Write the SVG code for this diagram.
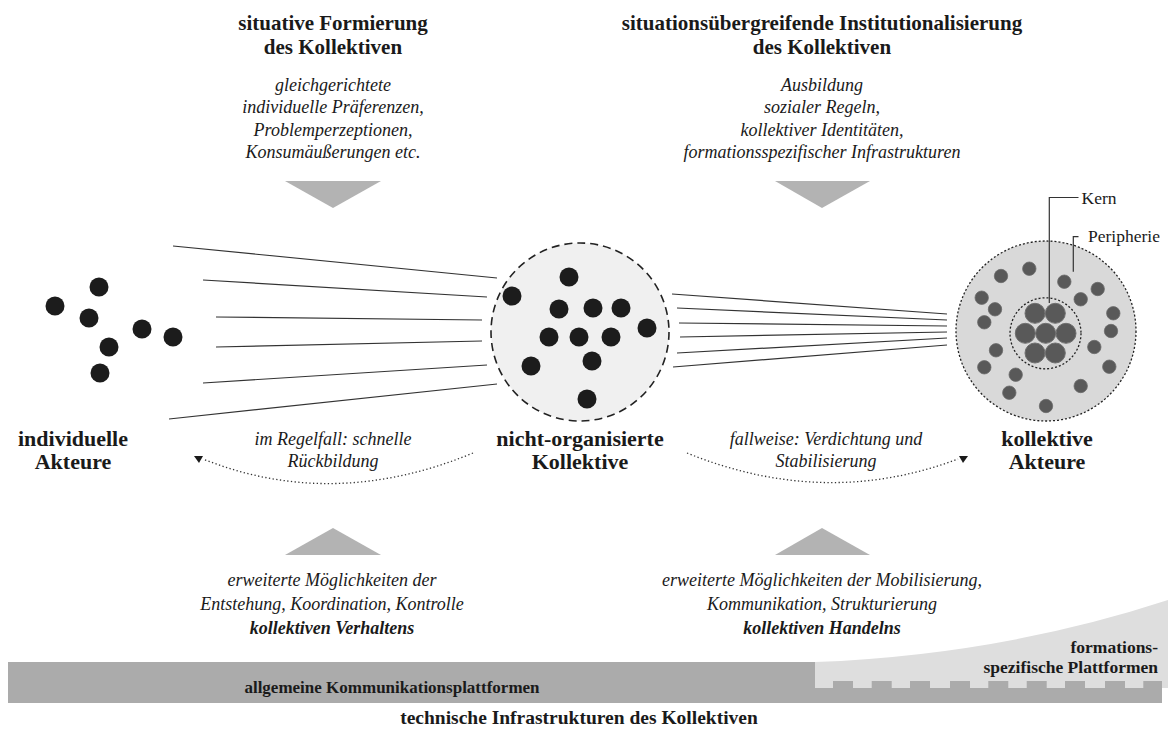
<svg xmlns="http://www.w3.org/2000/svg" width="1168" height="731" viewBox="0 0 1168 731">
<style>
.t{font-family:"Liberation Serif","Times New Roman",serif;fill:#1a1a1a;text-anchor:middle}
.b{font-weight:bold;font-size:21px}
.nl{font-weight:bold;font-size:22px}
.i{font-style:italic;font-size:18px}
.bi{font-style:italic;font-weight:bold;font-size:18px}
.sm{font-size:17.5px;text-anchor:start}
.pb{font-weight:bold;font-size:17px}
.tri{fill:#b3b3b3}
.ln{stroke:#333;stroke-width:1.2;fill:none}
.dot{fill:#1c1c1c}
.pd{fill:#595959;stroke:#6a6a6a;stroke-width:0.8}
.cd{fill:#595959;stroke:#6e6e6e;stroke-width:1}
.arc{stroke:#333;stroke-width:1.3;fill:none;stroke-dasharray:1.3 2.4}
</style>
<rect width="1168" height="731" fill="#ffffff"/>

<g id="top-left">
<text class="t b" x="333" y="30">situative Formierung</text>
<text class="t b" x="333" y="54">des Kollektiven</text>
<text class="t i" x="333" y="91">gleichgerichtete</text>
<text class="t i" x="333" y="113">individuelle Präferenzen,</text>
<text class="t i" x="333" y="136">Problemperzeptionen,</text>
<text class="t i" x="333" y="158">Konsumäußerungen etc.</text>
<polygon class="tri" points="285,181 381,181 333,208"/>
</g>

<g id="top-right">
<text class="t b" x="822" y="30">situationsübergreifende Institutionalisierung</text>
<text class="t b" x="822" y="54">des Kollektiven</text>
<text class="t i" x="822" y="91">Ausbildung</text>
<text class="t i" x="822" y="113">sozialer Regeln,</text>
<text class="t i" x="822" y="136">kollektiver Identitäten,</text>
<text class="t i" x="822" y="158">formationsspezifischer Infrastrukturen</text>
<polygon class="tri" points="775,181 870,181 822,208"/>
</g>

<g id="individuelle-akteure">
<circle class="dot" cx="99" cy="287" r="9.5"/>
<circle class="dot" cx="55" cy="306" r="9.5"/>
<circle class="dot" cx="89" cy="318" r="9.5"/>
<circle class="dot" cx="142" cy="329" r="9.5"/>
<circle class="dot" cx="173" cy="337" r="9.5"/>
<circle class="dot" cx="109" cy="347" r="9.5"/>
<circle class="dot" cx="100" cy="373" r="9.5"/>
<text class="t nl" x="73" y="446">individuelle</text>
<text class="t nl" x="73" y="469">Akteure</text>
</g>

<g id="nicht-organisierte-kollektive">
<circle cx="580" cy="332" r="89" fill="#f0f0f0" stroke="#222" stroke-width="1.6" stroke-dasharray="8 5"/>
<circle class="dot" cx="569" cy="277" r="9.5"/>
<circle class="dot" cx="512" cy="296" r="9.5"/>
<circle class="dot" cx="559" cy="309" r="9.5"/>
<circle class="dot" cx="593" cy="308" r="9.5"/>
<circle class="dot" cx="621" cy="308" r="9.5"/>
<circle class="dot" cx="647" cy="328" r="9.5"/>
<circle class="dot" cx="549" cy="337" r="9.5"/>
<circle class="dot" cx="579" cy="337" r="9.5"/>
<circle class="dot" cx="611" cy="337" r="9.5"/>
<circle class="dot" cx="531" cy="366" r="9.5"/>
<circle class="dot" cx="592" cy="361" r="9.5"/>
<circle class="dot" cx="587" cy="399" r="9.5"/>
<text class="t nl" x="580" y="446">nicht-organisierte</text>
<text class="t nl" x="580" y="469">Kollektive</text>
</g>

<g id="kollektive-akteure">
<circle cx="1046" cy="331" r="90" fill="#d9d9d9" stroke="#222" stroke-width="1.3" stroke-dasharray="2 2"/>
<circle cx="1045.5" cy="333.3" r="35.5" fill="none" stroke="#222" stroke-width="1.3" stroke-dasharray="2 2"/>
<circle class="cd" cx="1035" cy="313.3" r="10"/>
<circle class="cd" cx="1055.3" cy="313.3" r="10"/>
<circle class="cd" cx="1025.3" cy="333.3" r="10"/>
<circle class="cd" cx="1045.7" cy="333.3" r="10"/>
<circle class="cd" cx="1066" cy="333.3" r="10"/>
<circle class="cd" cx="1035" cy="353" r="10"/>
<circle class="cd" cx="1055.3" cy="353" r="10"/>
<circle class="pd" cx="1029.3" cy="268.7" r="6.7"/>
<circle class="pd" cx="1001" cy="276" r="6.7"/>
<circle class="pd" cx="1064.3" cy="281.7" r="6.7"/>
<circle class="pd" cx="1097.7" cy="289" r="6.7"/>
<circle class="pd" cx="981.7" cy="297.7" r="6.7"/>
<circle class="pd" cx="995" cy="309.3" r="6.7"/>
<circle class="pd" cx="1080.7" cy="299.3" r="6.7"/>
<circle class="pd" cx="1113.3" cy="313.3" r="6.7"/>
<circle class="pd" cx="984.3" cy="322.3" r="6.7"/>
<circle class="pd" cx="1111" cy="331" r="6.7"/>
<circle class="pd" cx="1094.3" cy="347" r="6.7"/>
<circle class="pd" cx="996" cy="350.3" r="6.7"/>
<circle class="pd" cx="984.3" cy="367.3" r="6.7"/>
<circle class="pd" cx="1015.7" cy="374.7" r="6.7"/>
<circle class="pd" cx="1109.3" cy="366.7" r="6.7"/>
<circle class="pd" cx="1080.7" cy="386" r="6.7"/>
<circle class="pd" cx="1009.3" cy="392.7" r="6.7"/>
<circle class="pd" cx="1046" cy="406" r="6.7"/>
<polyline points="1049.3,303 1049.3,197.5 1078.5,197.5" fill="none" stroke="#333" stroke-width="1.2"/>
<text class="t sm" x="1081.5" y="203.5">Kern</text>
<polyline points="1073.3,271.7 1073.3,236.7 1078.5,236.7" fill="none" stroke="#333" stroke-width="1.2"/>
<text class="t sm" x="1088" y="242">Peripherie</text>
<text class="t nl" x="1047" y="446">kollektive</text>
<text class="t nl" x="1047" y="469">Akteure</text>
</g>

<g id="connectors">
<line class="ln" x1="173" y1="246" x2="497" y2="278"/>
<line class="ln" x1="203" y1="280" x2="487" y2="297"/>
<line class="ln" x1="216" y1="317" x2="482" y2="320"/>
<line class="ln" x1="216" y1="347" x2="482" y2="341"/>
<line class="ln" x1="203" y1="383" x2="487" y2="365"/>
<line class="ln" x1="169" y1="419" x2="497" y2="384"/>
<line class="ln" x1="672" y1="294" x2="947" y2="314"/>
<line class="ln" x1="677" y1="308" x2="947" y2="320"/>
<line class="ln" x1="679" y1="323" x2="947" y2="326"/>
<line class="ln" x1="680" y1="337" x2="947" y2="332"/>
<line class="ln" x1="677" y1="353" x2="947" y2="338"/>
<line class="ln" x1="673" y1="367" x2="947" y2="345"/>
<path class="arc" d="M473,453 Q333,511 203,459"/>
<polygon points="194,456 203,456 199,463" fill="#1a1a1a"/>
<path class="arc" d="M687,453 Q825,509 958,459"/>
<polygon points="959,456 968,456 963,463" fill="#1a1a1a"/>
</g>

<g id="arc-labels">
<text class="t i" x="333" y="445">im Regelfall: schnelle</text>
<text class="t i" x="333" y="467">Rückbildung</text>
<text class="t i" x="826" y="445">fallweise: Verdichtung und</text>
<text class="t i" x="826" y="467">Stabilisierung</text>
</g>

<g id="bottom-left">
<polygon class="tri" points="285,555 381,555 333,528"/>
<text class="t i" x="332" y="586">erweiterte Möglichkeiten der</text>
<text class="t i" x="332" y="610">Entstehung, Koordination, Kontrolle</text>
<text class="t bi" x="332" y="634">kollektiven Verhaltens</text>
</g>

<g id="bottom-right">
<polygon class="tri" points="775,555 870,555 822,528"/>
<text class="t i" x="822" y="586">erweiterte Möglichkeiten der Mobilisierung,</text>
<text class="t i" x="822" y="610">Kommunikation, Strukturierung</text>
<text class="t bi" x="822" y="634">kollektiven Handelns</text>
</g>

<g id="platforms">
<rect x="8" y="662" width="1154" height="41" fill="#ababab"/>
<path d="M815,662 Q1000,655 1168,600 L1168,688 L815,688 Z" fill="#dedede"/>
<g fill="#ababab">
<rect x="833" y="681" width="20" height="8"/>
<rect x="871.7" y="681" width="20" height="8"/>
<rect x="910" y="681" width="20" height="8"/>
<rect x="950" y="681" width="20" height="8"/>
<rect x="988.3" y="681" width="20" height="8"/>
<rect x="1026.7" y="681" width="20" height="8"/>
<rect x="1065" y="681" width="20" height="8"/>
<rect x="1105" y="681" width="20" height="8"/>
<rect x="1143.3" y="681" width="18.7" height="8"/>
</g>
<rect x="815" y="688" width="347" height="15" fill="#ababab"/>
<text class="t pb" x="392" y="693">allgemeine Kommunikationsplattformen</text>
<text class="t" x="1158" y="653" style="text-anchor:end;font-weight:bold;font-size:17.5px">formations-</text>
<text class="t" x="1158" y="673" style="text-anchor:end;font-weight:bold;font-size:17.5px">spezifische Plattformen</text>
<text class="t" x="579" y="724" style="font-weight:bold;font-size:19.5px">technische Infrastrukturen des Kollektiven</text>
</g>
</svg>
